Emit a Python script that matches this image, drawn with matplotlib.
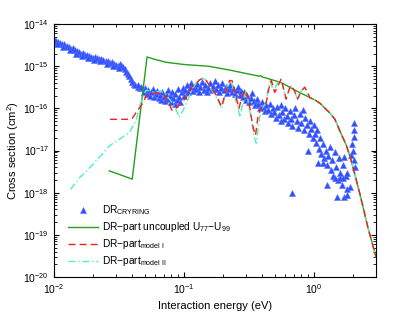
import matplotlib
matplotlib.use('Agg')
from matplotlib import pyplot as plt

# DR CRYRING measurement (eV, cm^2)
cryring_e = [
    0.0100, 0.0104, 0.0108, 0.0112, 0.0116, 0.0120, 0.0125, 0.0130, 0.0135, 0.0140,
    0.0145, 0.0150, 0.0156, 0.0162, 0.0168, 0.0174, 0.0180, 0.0187, 0.0194, 0.0200,
    0.0208, 0.0216, 0.0224, 0.0232, 0.0240, 0.0250, 0.0260, 0.0270, 0.0280, 0.0290,
    0.0300, 0.0310, 0.0320, 0.0330, 0.0340, 0.0350, 0.0360, 0.0370, 0.0380, 0.0390,
    0.0400, 0.0410, 0.0420, 0.0440, 0.0460,
    0.0106, 0.0118, 0.0132, 0.0148, 0.0165, 0.0184, 0.0204, 0.0228, 0.0255, 0.0285, 0.0315,
    0.044, 0.047, 0.049, 0.050, 0.052, 0.053, 0.055, 0.056, 0.058, 0.059,
    0.061, 0.062, 0.064, 0.065, 0.067, 0.068, 0.070, 0.071, 0.073, 0.075,
    0.076, 0.078, 0.080, 0.081, 0.083, 0.085, 0.086, 0.088, 0.090, 0.092,
    0.094, 0.096, 0.098, 0.100,
    0.102, 0.105, 0.108, 0.111, 0.114, 0.117, 0.120, 0.124, 0.127, 0.131,
    0.134, 0.138, 0.142, 0.146, 0.150, 0.154, 0.158, 0.163, 0.167, 0.172,
    0.177, 0.182, 0.187, 0.192, 0.197, 0.203, 0.209, 0.215, 0.221, 0.227,
    0.233, 0.240, 0.247, 0.254, 0.261, 0.268, 0.276,
    0.284, 0.292, 0.300, 0.308, 0.317, 0.326, 0.335, 0.344, 0.354, 0.364,
    0.374, 0.385, 0.396, 0.407, 0.418, 0.430, 0.442, 0.455, 0.468, 0.481,
    0.495, 0.509, 0.523, 0.538, 0.553,
    0.56, 0.57, 0.59, 0.60, 0.62, 0.63, 0.65, 0.67, 0.68, 0.70,
    0.72, 0.74, 0.76, 0.78, 0.80, 0.82, 0.84, 0.86, 0.88, 0.91,
    0.93, 0.95, 0.98, 1.00, 0.90, 0.68,
    1.02, 1.04, 1.06, 1.09, 1.12, 1.14, 1.17, 1.20, 1.23, 1.26,
    1.29, 1.32, 1.35, 1.38, 1.41, 1.45, 1.48, 1.52, 1.55, 1.59,
    1.63, 1.67, 1.71, 1.75, 1.79, 1.07, 1.17, 1.27, 1.44, 1.58,
    1.67, 1.78, 1.50, 1.78, 1.90,
    2.05, 2.05, 2.05, 2.00, 1.70, 1.95, 2.02, 1.93, 2.07,
]
cryring_sigma = [
    4.5e-15, 4.0e-15, 3.8e-15, 3.6e-15, 3.3e-15, 3.4e-15, 3.0e-15, 2.8e-15, 2.6e-15, 2.7e-15,
    2.4e-15, 2.3e-15, 2.2e-15, 2.0e-15, 2.1e-15, 1.9e-15, 1.8e-15, 1.75e-15, 1.7e-15, 1.6e-15,
    1.7e-15, 1.55e-15, 1.5e-15, 1.45e-15, 1.4e-15, 1.35e-15, 1.3e-15, 1.2e-15, 1.25e-15, 1.15e-15,
    1.1e-15, 1.0e-15, 1.15e-15, 1.1e-15, 9.5e-16, 8.7e-16, 7.5e-16, 6.6e-16, 6.0e-16, 5.0e-16,
    4.2e-16, 3.8e-16, 3.5e-16, 3.3e-16, 3.1e-16,
    3.4e-15, 2.9e-15, 2.4e-15, 2.0e-15, 1.75e-15, 1.55e-15, 1.4e-15, 1.3e-15, 1.15e-15, 1.0e-15, 9.0e-16,
    3.6e-16, 3.3e-16, 2.5e-16, 3.0e-16, 2.2e-16, 2.7e-16, 2.0e-16, 2.4e-16, 2.9e-16, 1.9e-16,
    2.2e-16, 2.6e-16, 1.8e-16, 2.1e-16, 1.6e-16, 2.4e-16, 1.9e-16, 1.5e-16, 2.2e-16, 1.7e-16,
    2.8e-16, 2.0e-16, 1.4e-16, 2.5e-16, 1.8e-16, 1.3e-16, 2.2e-16, 1.6e-16, 2.9e-16, 1.9e-16,
    1.4e-16, 2.4e-16, 3.1e-16, 2.0e-16,
    2.7e-16, 3.5e-16, 2.4e-16, 3.0e-16, 4.0e-16, 2.6e-16, 3.3e-16, 2.9e-16, 3.8e-16, 2.5e-16,
    3.2e-16, 4.3e-16, 2.8e-16, 3.5e-16, 2.4e-16, 3.0e-16, 3.9e-16, 2.7e-16, 3.4e-16, 4.5e-16,
    2.9e-16, 3.6e-16, 2.5e-16, 3.1e-16, 4.0e-16, 2.7e-16, 3.3e-16, 2.3e-16, 2.9e-16, 3.6e-16,
    2.5e-16, 3.0e-16, 2.2e-16, 2.7e-16, 3.3e-16, 2.1e-16, 2.6e-16,
    1.9e-16, 2.4e-16, 1.6e-16, 2.0e-16, 1.4e-16, 1.8e-16, 2.3e-16, 1.5e-16, 1.2e-16, 1.7e-16,
    1.3e-16, 1.0e-16, 1.4e-16, 1.1e-16, 8.5e-17, 1.2e-16, 9.0e-17, 1.3e-16, 7.5e-17, 1.0e-16,
    8.0e-17, 6.0e-17, 1.1e-16, 7.0e-17, 5.0e-17,
    1.2e-16, 8.0e-17, 5.5e-17, 1.0e-16, 6.5e-17, 4.5e-17, 8.5e-17, 5.5e-17, 3.8e-17, 7.0e-17,
    1.0e-16, 5.0e-17, 3.5e-17, 7.5e-17, 4.5e-17, 9.0e-17, 3.0e-17, 6.0e-17, 4.0e-17, 2.5e-17,
    5.0e-17, 3.2e-17, 2.0e-17, 4.0e-17, 1.0e-17, 9.6e-19,
    2.5e-17, 1.5e-17, 3.0e-17, 1.1e-17, 2.0e-17, 8.5e-18, 1.4e-17, 6.5e-18, 1.0e-17, 4.5e-18,
    7.5e-18, 1.2e-17, 3.5e-18, 6.0e-18, 2.5e-18, 9.0e-18, 4.0e-18, 2.0e-18, 6.5e-18, 3.0e-18,
    1.5e-18, 4.5e-18, 8.0e-19, 2.5e-18, 1.2e-18, 5.0e-18, 5.0e-18, 1.5e-18, 2.2e-18, 2.2e-18,
    2.2e-18, 2.9e-18, 7.8e-19, 8.7e-19, 1.4e-18,
    4.4e-17, 3.0e-17, 2.1e-17, 1.0e-17, 7.0e-18, 1.4e-17, 6.0e-18, 8.0e-18, 4.0e-18,
]

# DR-part, uncoupled U77-U99
uncoupled_e = [0.0267, 0.040, 0.052, 0.060, 0.073, 0.100, 0.155, 0.23, 0.31, 0.38, 0.39, 0.40,
               0.56, 0.75, 1.03, 1.12, 1.34, 1.45, 1.6, 1.78, 1.93, 2.1, 2.25, 2.6, 3.0]
uncoupled_sigma = [3.3e-18, 2.1e-18, 1.66e-15, 1.45e-15, 1.24e-15, 1.1e-15, 1.0e-15, 8.0e-16, 6.6e-16,
                   5.8e-16, 6.0e-16, 5.6e-16, 4.1e-16, 2.5e-16, 1.55e-16, 1.3e-16, 7.5e-17, 5.5e-17,
                   2.7e-17, 1.3e-17, 5.9e-18, 2.2e-18, 9.6e-19, 1.5e-19, 3e-20]

# DR-part, model I
model1_e = [0.027, 0.036, 0.040, 0.044, 0.048, 0.051, 0.055, 0.060, 0.066, 0.071, 0.076, 0.081,
            0.087, 0.094, 0.104, 0.115, 0.123, 0.135, 0.147, 0.160, 0.175, 0.195, 0.210, 0.225,
            0.235, 0.250, 0.265, 0.280, 0.300, 0.315, 0.330, 0.345, 0.355, 0.370, 0.390, 0.430,
            0.450, 0.470, 0.500, 0.530, 0.560, 0.610, 0.660, 0.700, 0.750, 0.800, 0.850, 0.930,
            1.03, 1.12, 1.34, 1.45, 1.6, 1.78, 1.93, 2.1, 2.25, 2.6, 3.0]
model1_sigma = [5.5e-17, 5.5e-17, 5.8e-17, 9e-17, 1.3e-16, 1.9e-16, 2.2e-16, 2.3e-16, 2.2e-16,
                2.0e-16, 1.4e-16, 9e-17, 1.0e-16, 1.3e-16, 1.8e-16, 3.2e-16, 3.9e-16, 5e-16,
                4.8e-16, 3.2e-16, 2.2e-16, 1.1e-16, 2.5e-16, 4.6e-16, 4.5e-16, 2.0e-16, 1.0e-16,
                2.0e-16, 2.7e-16, 1.5e-16, 6e-17, 3e-17, 2.3e-17, 6e-17, 1.0e-16, 1.4e-16, 3e-16,
                4.6e-16, 2.4e-16, 3.5e-16, 5e-16, 1.7e-16, 3.5e-16, 2.8e-16, 1.7e-16, 2.6e-16,
                3.2e-16, 1.8e-16, 1.55e-16, 1.3e-16, 7.5e-17, 5.5e-17, 2.7e-17, 1.3e-17, 5.9e-18,
                2.2e-18, 9.6e-19, 1.5e-19, 3e-20]

# DR-part, model II
model2_e = [0.0134, 0.0158, 0.0190, 0.0224, 0.0268, 0.033, 0.038, 0.043, 0.045, 0.048, 0.051,
            0.054, 0.060, 0.066, 0.072, 0.078, 0.085, 0.092, 0.100, 0.109, 0.115, 0.123, 0.132,
            0.140, 0.150, 0.160, 0.175, 0.195, 0.210, 0.222, 0.232, 0.250, 0.270, 0.285, 0.300,
            0.315, 0.330, 0.345, 0.360, 0.375, 0.390, 0.430, 0.445, 0.460, 0.490, 0.520, 0.555,
            0.610, 0.660, 0.700, 0.750, 0.800, 0.850, 0.930, 1.03, 1.12, 1.34, 1.45, 1.6, 1.78,
            1.93, 2.1, 2.25, 2.6, 3.0]
model2_sigma = [1.2e-18, 2.3e-18, 4e-18, 7e-18, 1.3e-17, 2e-17, 2.7e-17, 5.2e-17, 1.0e-16, 1.8e-16,
                2.7e-16, 2.6e-16, 2.4e-16, 2.6e-16, 2.2e-16, 1.6e-16, 1.1e-16, 6.2e-17, 1.0e-16,
                1.8e-16, 2.7e-16, 3.9e-16, 5e-16, 5.2e-16, 4.5e-16, 3e-16, 2.0e-16, 1.0e-16,
                2.5e-16, 4.6e-16, 4.3e-16, 1.6e-16, 6.2e-17, 1.5e-16, 2.7e-16, 1.2e-16, 5.5e-17,
                2.2e-17, 1.5e-17, 4e-17, 9e-17, 1.4e-16, 3.2e-16, 4.3e-16, 2.6e-16, 3.8e-16, 5e-16,
                1.6e-16, 3.4e-16, 2.8e-16, 1.6e-16, 2.6e-16, 3.2e-16, 1.8e-16, 1.55e-16, 1.3e-16,
                7.5e-17, 5.5e-17, 2.7e-17, 1.3e-17, 5.9e-18, 2.2e-18, 9.6e-19, 1.5e-19, 3e-20]

x_ticks = [0.01, 0.1, 1]
y_ticks = [1e-20, 1e-19, 1e-18, 1e-17, 1e-16, 1e-15, 1e-14]

plt.rcParams['font.family'] = ['Liberation Sans', 'DejaVu Sans']
plt.rcParams['font.size'] = 7.5
plt.rcParams['mathtext.fontset'] = 'custom'
plt.rcParams['mathtext.rm'] = 'Liberation Sans'
plt.rcParams['mathtext.it'] = 'Liberation Sans'

fig = plt.figure(figsize=(4.15, 3.13), dpi=100)
ax = fig.add_axes([0.130, 0.115, 0.776, 0.808])

ax.plot(cryring_e, cryring_sigma, linestyle='none', marker='^', markersize=3.7,
        color='#3050ff', markeredgecolor='#5570ff', markeredgewidth=0.4,
        label=r'DR$_{\rm CRYRING}$', zorder=2)
ax.plot(uncoupled_e, uncoupled_sigma, color='#22a01e', lw=1.0,
        label=r'DR$-$part uncoupled U$_{77}$$-$U$_{99}$', zorder=3)
ax.plot(model1_e, model1_sigma, color='#ff1a1a', lw=1.0, dashes=(5, 3),
        label=r'DR$-$part$_{\rm model\ I}$', zorder=5)
ax.plot(model2_e, model2_sigma, color='#50f0b8', lw=1.0, dashes=(5, 2, 1, 2),
        label=r'DR$-$part$_{\rm model\ II}$', zorder=4)

ax.set_xscale('log')
ax.set_yscale('log')
ax.set_xticks(x_ticks)
ax.set_yticks(y_ticks)
ax.set_xlim(0.01, 3)
ax.set_ylim(1e-20, 1e-14)
ax.set_xlabel('Interaction energy (eV)', fontsize=8)
ax.set_ylabel(r'Cross section (cm$^2$)', fontsize=8, labelpad=2)
ax.tick_params(which='both', direction='in', top=True, right=True)
ax.tick_params(which='major', length=3.5)
ax.tick_params(which='minor', length=2)

ax.legend(loc='lower left', bbox_to_anchor=(0.043, 0.035), frameon=False, numpoints=1,
          handlelength=3.0, handletextpad=0.4, fontsize=7.3, labelspacing=0.3,
          borderpad=0, borderaxespad=0)

plt.savefig('out.png')
